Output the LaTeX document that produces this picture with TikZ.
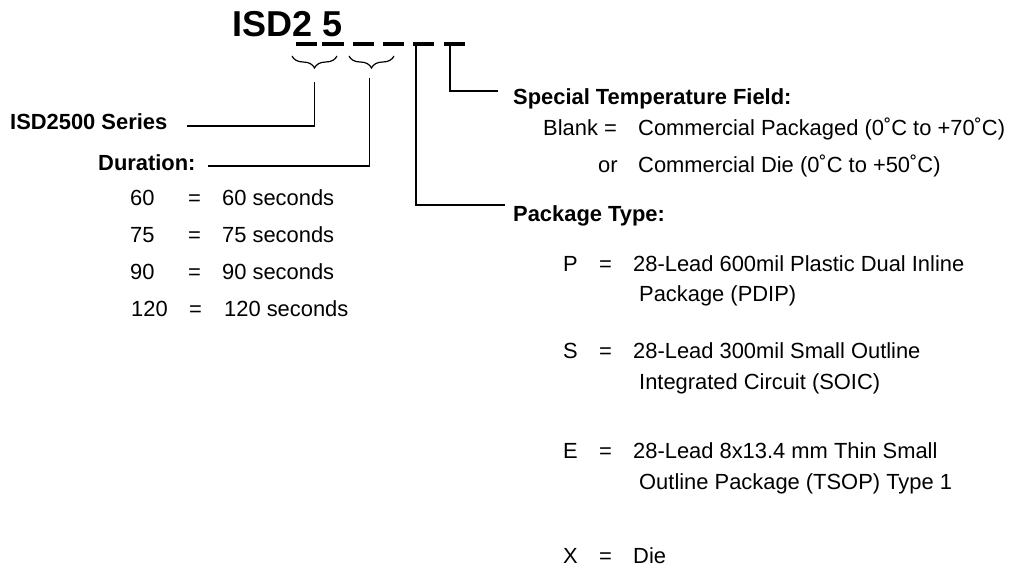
\documentclass[tikz,border=0pt]{standalone}
\usepackage{fontspec}
\setmainfont{Liberation Sans}
\usetikzlibrary{decorations.pathreplacing}
\begin{document}
\begin{tikzpicture}[x=1pt,y=-1pt,
  txt/.style={anchor=base west, inner sep=0pt, font=\fontsize{21.9}{26}\selectfont},
  hdr/.style={anchor=base west, inner sep=0pt, font=\fontsize{21.9}{26}\selectfont\bfseries},
  ttl/.style={anchor=base west, inner sep=0pt, font=\fontsize{36}{40}\selectfont\bfseries},
  dashbar/.style={line width=4pt},
  conn/.style={line width=1.2pt},
  brc/.style={line width=1.2pt, decorate, decoration={brace, amplitude=12pt}}]
\fill[white] (0,0) rectangle (1010,569);
\useasboundingbox (0,0) rectangle (1010,569);

% title
\node[ttl] (t1) at (232,37) {ISD2};
\node[ttl] (t2) at (322,37) {5};

% dashes
\draw[dashbar] (296,44) -- (317,44);
\draw[dashbar] (322,44) -- (344,44);
\draw[dashbar] (353,44) -- (374,44);
\draw[dashbar] (383,44) -- (404,44);
\draw[dashbar] (413,44) -- (434,44);
\draw[dashbar] (444,44) -- (465,44);

% braces
\draw[brc] (337,56) -- (292,56);
\draw[brc] (394,56) -- (349,56);

% coordinates
\coordinate (v1) at (314.5,82);
\coordinate (v2) at (369.5,78);
\coordinate (v3) at (416,44);
\coordinate (v4) at (450,44);
\coordinate (e1) at (187,126);
\coordinate (e2) at (208,166);
\coordinate (e3) at (505,205);
\coordinate (e4) at (498,91);

% left labels
\node[hdr] (series) at (10,130) {ISD2500 Series};
\node[hdr] (dur) at (98,171) {Duration:};

\node[txt] (a1) at (130,206) {60};
\node[txt] (a2) at (188,206) {=};
\node[txt] (a3) at (222,206) {60 seconds};
\node[txt] (b1) at (130,243) {75};
\node[txt] (b2) at (188,243) {=};
\node[txt] (b3) at (222,243) {75 seconds};
\node[txt] (c1) at (130,280) {90};
\node[txt] (c2) at (188,280) {=};
\node[txt] (c3) at (222,280) {90 seconds};
\node[txt] (d1) at (131,317) {120};
\node[txt] (d2) at (189,317) {=};
\node[txt] (d3) at (224,317) {120 seconds};

% right labels
\node[hdr] (temp) at (513,105) {Special Temperature Field:};
\node[txt] (bl1) at (543,136) {Blank =};
\node[txt] (bl2) at (638,136) {Commercial Packaged (0˚C to +70˚C)};
\node[txt] (or1) at (598,173) {or};
\node[txt] (or2) at (638,173) {Commercial Die (0˚C to +50˚C)};

\node[hdr] (pkg) at (513,222) {Package Type:};
\node[txt] (p1) at (563,272) {P};
\node[txt] (p2) at (599,272) {=};
\node[txt] (p3) at (633,272) {28-Lead 600mil Plastic Dual Inline};
\node[txt] (p4) at (639,302) {Package (PDIP)};
\node[txt] (s1) at (563,359) {S};
\node[txt] (s2) at (599,359) {=};
\node[txt] (s3) at (633,359) {28-Lead 300mil Small Outline};
\node[txt] (s4) at (639,390) {Integrated Circuit (SOIC)};
\node[txt] (x1) at (563,458) {E};
\node[txt] (x2) at (599,458) {=};
\node[txt] (x3) at (633,458) {28-Lead 8x13.4 mm Thin Small};
\node[txt] (x4) at (639,489) {Outline Package (TSOP) Type 1};
\node[txt] (y1) at (563,563) {X};
\node[txt] (y2) at (599,563) {=};
\node[txt] (y3) at (633,563) {Die};

% connectors
\draw[conn] (v1) |- (e1);
\draw[conn] (v2) |- (e2);
\draw[conn] (v3) |- (e3);
\draw[conn] (v4) |- (e4);
\end{tikzpicture}
\end{document}
